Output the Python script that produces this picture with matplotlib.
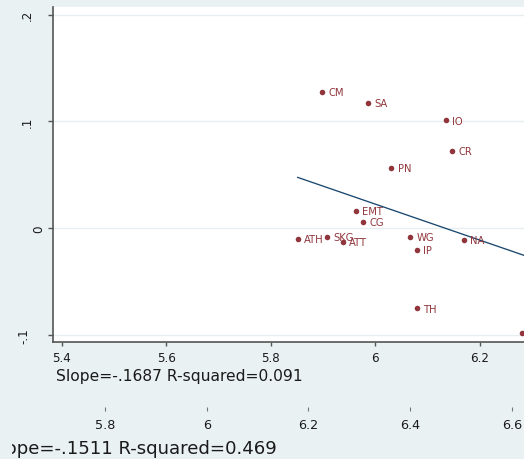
import matplotlib
matplotlib.use('Agg')
import matplotlib.pyplot as plt
from matplotlib.transforms import blended_transform_factory, Bbox
import numpy as np

# ---------------- data ----------------
point_labels = ['CM', 'SA', 'IO', 'CR', 'PN', 'EMT', 'CG', 'ATH', 'SKG', 'ATT',
                'WG', 'IP', 'NA', 'TH', '']
x_values = [5.898, 5.986, 6.1355, 6.147, 6.031, 5.9627, 5.976, 5.8517, 5.9078,
            5.9378, 6.0672, 6.0794, 6.170, 6.080, 6.2804]
y_values = [0.1277, 0.1172, 0.1009, 0.0724, 0.0565, 0.0162, 0.0059, -0.0103,
            -0.0084, -0.0131, -0.0084, -0.0203, -0.0110, -0.0753, -0.0981]

fit_slope = -0.1687
fit_intercept = 1.0346
fit_x_range = [5.8517, 6.45]

x_ticks = [5.4, 5.6, 5.8, 6.0, 6.2]
x_tick_labels = ['5.4', '5.6', '5.8', '6', '6.2']
y_ticks = [0.2, 0.1, 0.0, -0.1]
y_tick_labels = ['.2', '.1', '0', '-.1']

x_ticks2 = [5.8, 6.0, 6.2, 6.4, 6.6]
x_tick_labels2 = ['5.8', '6', '6.2', '6.4', '6.6']

caption1 = 'Slope=-.1687 R-squared=0.091'
caption2 = 'Slope=-.1511 R-squared=0.469'

# ---------------- style ----------------
W, H = 524, 460
BG = '#EAF1F3'
GRID = '#E6EEF0'
MAROON = '#90353B'
NAVY = '#1A476F'
SPINE = '#555555'
TXT = '#1a1a1a'
plt.rcParams['font.family'] = ['DejaVu Sans']

def fx(px):
    return px / W

def fy(py):
    return 1 - py / H

fig = plt.figure(figsize=(W / 100, H / 100), dpi=100, facecolor=BG)

ax = fig.add_axes([fx(52.7), fy(343), 1 - fx(52.7), (343 - 8) / H])
ax.set_facecolor('white')
ax.set_xlim(5.38278, 6.28478)
ax.set_ylim(-0.10684, 0.2071)
for s in ['top', 'right']:
    ax.spines[s].set_visible(False)
for s in ['left', 'bottom']:
    ax.spines[s].set_color(SPINE)
    ax.spines[s].set_linewidth(1.2)

ax.set_yticks(y_ticks)
ax.yaxis.grid(True, color=GRID, lw=1.0)
ax.set_axisbelow(True)
ax.tick_params(axis='y', length=3.6, width=1.0, color=SPINE, labelleft=False)
ax.set_xticks(x_ticks)
ax.set_xticklabels(x_tick_labels)
ax.tick_params(axis='x', length=2.9, width=1.0, color=SPINE, pad=3.6,
               labelsize=8.6, labelcolor=TXT)

# y tick labels (rotated, Stata style)
ylab_x_px = [27.3, 27.7, 38.3, 24.3]
tr = blended_transform_factory(fig.transFigure, ax.transData)
for yv, lab, xp in zip(y_ticks, y_tick_labels, ylab_x_px):
    fig.text(fx(xp), yv, lab, transform=tr, rotation=90, ha='center',
             va='center', fontsize=8.6, color=TXT)

# fitted line
fx_arr = np.array(fit_x_range)
ax.plot(fx_arr, fit_intercept + fit_slope * fx_arr, color=NAVY, lw=0.95, zorder=2)

# points
ax.scatter(x_values, y_values, s=16, color=MAROON, zorder=3, linewidths=0)
for xv, yv, lab in zip(x_values, y_values, point_labels):
    if lab:
        ax.annotate(lab, (xv, yv), xytext=(4.6, -2.5), textcoords='offset points',
                    va='baseline', ha='left', fontsize=7.2, color=MAROON, zorder=4)

fig.text(fx(56), fy(380.5), caption1, ha='left', va='baseline',
         fontsize=11.2, color=TXT)

# second (partly hidden) graph below
ax2 = fig.add_axes([0, fy(407.7), 1, 0.01])
ax2.set_facecolor('none')
for s in ax2.spines.values():
    s.set_visible(False)
ax2.set_xlim(5.5936, 6.6236)
ax2.set_yticks([])
ax2.set_xticks(x_ticks2)
ax2.set_xticklabels(x_tick_labels2)
ax2.tick_params(axis='x', length=2.9, width=0.8, color='#777777', pad=5.0,
                labelsize=9.2, labelcolor=TXT)

t2 = fig.text(fx(277), fy(454), caption2, ha='right', va='baseline',
              fontsize=13.1, color=TXT)
t2.set_clip_box(Bbox.from_extents(12, 0, W, H))
t2.set_clip_on(True)

fig.savefig('out.png', dpi=100, facecolor=BG)
